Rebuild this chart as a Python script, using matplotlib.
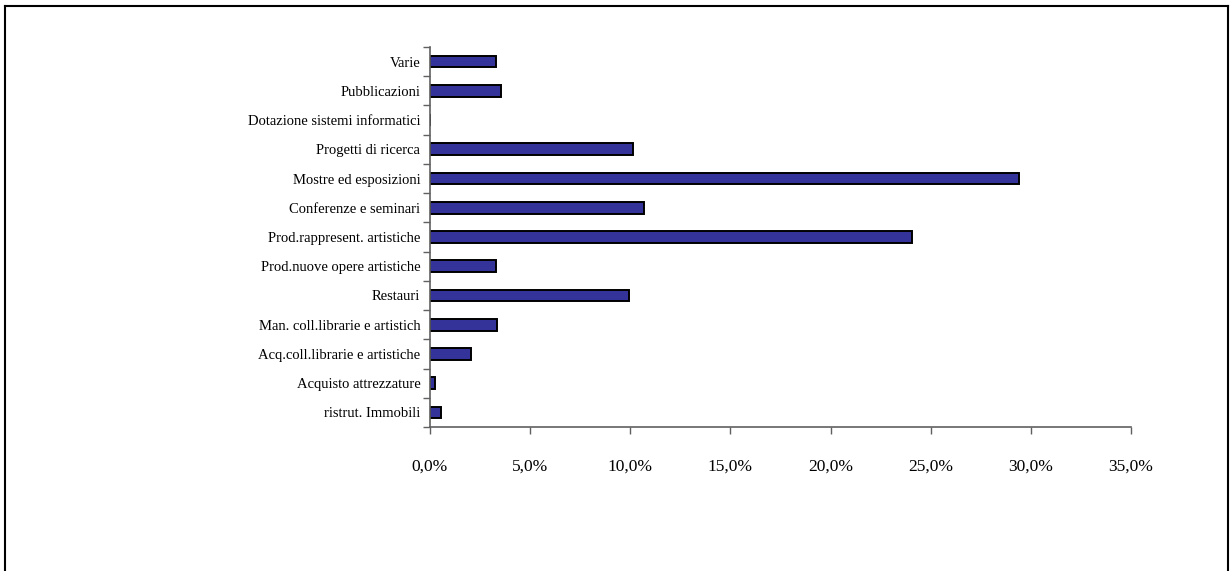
import numpy as np
import matplotlib
matplotlib.use('Agg')
import matplotlib.pyplot as plt
from matplotlib.lines import Line2D
from matplotlib.ticker import FuncFormatter

# bottom to top, as drawn
categories = ['ristrut. Immobili', 'Acquisto attrezzature',
              'Acq.coll.librarie e artistiche', 'Man. coll.librarie e artistich',
              'Restauri', 'Prod.nuove opere artistiche',
              'Prod.rappresent. artistiche', 'Conferenze e seminari',
              'Mostre ed esposizioni', 'Progetti di ricerca',
              'Dotazione sistemi informatici', 'Pubblicazioni', 'Varie']
values = [0.55, 0.27, 2.04, 3.37, 9.95, 3.29, 24.08, 10.69, 29.4, 10.14, 0.0, 3.52, 3.29]
xticks = [0, 5, 10, 15, 20, 25, 30, 35]

plt.rcParams['font.family'] = ['Liberation Serif', 'DejaVu Serif']

fig = plt.figure(figsize=(12.3, 5.71), dpi=100)
ax = fig.add_axes([430 / 1230, 1 - 427 / 571, 701 / 1230, 380 / 571])

pos = np.arange(len(categories))
ax.barh(pos, values, height=0.4, color='#333399', edgecolor='black', linewidth=1.4)

ax.set_xlim(0, 35)
ax.set_ylim(-0.5, len(categories) - 0.5)
ax.set_xticks(xticks)
ax.xaxis.set_major_formatter(FuncFormatter(lambda v, p: ('%.1f%%' % v).replace('.', ',')))
ax.set_yticks(pos)
ax.set_yticklabels(categories)
ax.set_yticks(np.arange(-0.5, len(categories)), minor=True)

ax.tick_params(axis='y', which='major', length=0, pad=7, labelsize=10.5)
ax.tick_params(axis='y', which='minor', length=5, width=1, color='#606060')
ax.tick_params(axis='x', length=5, width=1, color='#606060', pad=18, labelsize=12.5)

for s in ['top', 'right']:
    ax.spines[s].set_visible(False)
for s in ['left', 'bottom']:
    ax.spines[s].set_color('#606060')
    ax.spines[s].set_linewidth(1.2)

# frame around the chart (no bottom edge visible)
fig.add_artist(Line2D([5 / 1230, 1228 / 1230], [1 - 6 / 571, 1 - 6 / 571], color='black', lw=1.5))
fig.add_artist(Line2D([5 / 1230, 5 / 1230], [0, 1 - 6 / 571], color='black', lw=1.5))
fig.add_artist(Line2D([1228 / 1230, 1228 / 1230], [0, 1 - 6 / 571], color='black', lw=1.5))

plt.savefig('out.png', dpi=100)
